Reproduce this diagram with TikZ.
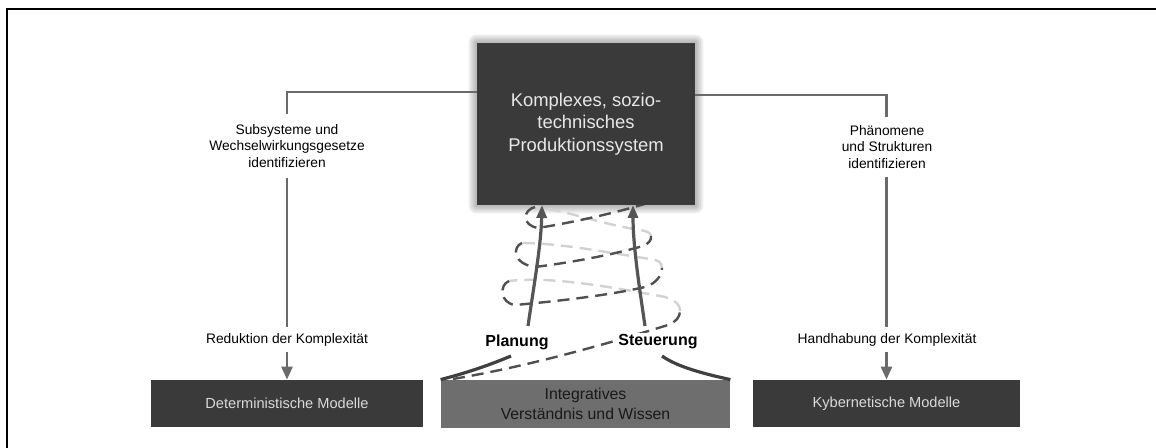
\documentclass[tikz,border=0pt]{standalone}
\usepackage{fontspec}
\setmainfont{Liberation Sans}
\usetikzlibrary{arrows.meta,calc,backgrounds}
\definecolor{boxdark}{HTML}{3A3A3A}
\definecolor{boxmid}{HTML}{6E6E6E}
\definecolor{conngray}{HTML}{6A6A6A}
\definecolor{arrowgray}{HTML}{555555}
\definecolor{curvegray}{HTML}{404040}
\definecolor{spiraldark}{HTML}{505050}
\definecolor{spirallight}{HTML}{D2D2D2}
\definecolor{lighttext}{HTML}{E8E8E8}
\definecolor{lighttexttwo}{HTML}{DADADA}
\begin{document}
\begin{tikzpicture}[x=0.5pt,y=-0.5pt,
  mainbox/.style={fill=boxdark,text=lighttext,minimum width=109pt,minimum height=81pt,inner sep=0pt,align=center,font=\fontsize{9.2}{11.3}\selectfont},
  darkbox/.style={fill=boxdark,text=lighttexttwo,inner sep=0pt,font=\fontsize{7.3}{9}\selectfont},
  midbox/.style={fill=boxmid,text=black!90,inner sep=0pt,align=center,font=\fontsize{7.9}{10}\selectfont},
  lbl/.style={fill=white,inner sep=0pt,align=center,font=\fontsize{6.9}{8.25}\selectfont},
  kwlbl/.style={fill=white,inner sep=1pt,font=\bfseries\fontsize{8}{9}\selectfont},
  conn/.style={draw=conngray,line width=1.3pt},
  ctip/.style={-{Triangle[length=6.5pt,width=5.5pt]}},
  flow/.style={draw=arrowgray,line width=1.6pt,-{Triangle[length=6.5pt,width=5pt]}},
  basecurve/.style={draw=curvegray,line width=1.6pt},
  spfront/.style={draw=spiraldark,line width=1.2pt,dash pattern=on 6pt off 3.5pt},
  spback/.style={draw=spirallight,line width=1.2pt,dash pattern=on 6pt off 3.5pt},
]
\useasboundingbox (0,0) rectangle (1156,448);
% frame
\draw[black,line width=1pt] (7,448) -- (7,9) -- (1156,9);

% main box
\node[mainbox] (main) at (586,124) {Komplexes, sozio-\\technisches\\Produktionssystem};

\begin{scope}[on background layer]
  \fill[white] (0,0) rectangle (1156,448);
  \foreach \d in {1,...,4}{
    \fill[black,opacity=0.07,rounded corners=\d pt] ($(main.south west)+(-2*\d,2*\d)$) rectangle ($(main.north east)+(2*\d,-2*\d)$);
  }
  % spiral: back parts
  \draw[spback] (680,311) .. controls (680,303) and (672,298) .. (660,296) .. controls (610,287) and (550,276) .. (509,281);
  \draw[spback] (662,268) .. controls (662,262) and (658,260) .. (650,259) .. controls (610,253) and (560,243) .. (522,243);
  \draw[spback] (651,236) .. controls (650,232) and (646,231) .. (640,230) .. controls (600,224) and (565,210) .. (535,207);
  % spiral: front parts
  \draw[spfront] (453,379) .. controls (530,366) and (610,343) .. (668,325) .. controls (676,322) and (680,317) .. (680,311);
  \draw[spfront] (509,281) .. controls (499,285) and (500,303) .. (515,305) .. controls (560,301) and (610,295) .. (645,287) .. controls (655,284) and (662,276) .. (662,268);
  \draw[spfront] (522,243) .. controls (512,247) and (513,264) .. (535,267) .. controls (575,262) and (615,254) .. (643,246) .. controls (648,244) and (652,240) .. (651,236);
  \draw[spfront] (535,207) .. controls (523,210) and (521,225) .. (538,228) .. controls (575,222) and (615,213) .. (648,203);
\end{scope}

% bottom boxes
\node[darkbox,minimum width=136pt,minimum height=23.5pt] (det) at (287,403.5) {Deterministische Modelle};
\node[midbox,minimum width=144.5pt,minimum height=24pt] (integ) at (585.5,404) {Integratives\\Verständnis und Wissen};
\node[darkbox,minimum width=133.5pt,minimum height=23.5pt] (kyb) at (886.5,403.5) {Kybernetische Modelle};

% side connectors
\coordinate (lc) at (287,92);
\coordinate (rc) at (886.5,95);
\draw[conn,ctip] (main.west |- lc) -- (lc) -- (det.north);
\draw[conn,ctip] (main.east |- rc) -- (rc) -- (kyb.north);

% connector labels
\node[lbl,minimum height=32pt] (subs) at (287,146) {Subsysteme und\\Wechselwirkungsgesetze\\identifizieren};
\node[lbl,minimum height=12.5pt] (red) at (287,339.5) {Reduktion der Komplexität};
\node[lbl,minimum height=30pt] (phen) at (887,147) {Phänomene\\und Strukturen\\identifizieren};
\node[lbl,minimum height=12.5pt] (hand) at (887,339.5) {Handhabung der Komplexität};

% Planung / Steuerung
\node[kwlbl] (plan) at (517,342) {Planung};
\node[kwlbl] (steu) at (658,342) {Steuerung};
\coordinate (pb) at (528,326);
\coordinate (pt) at (542,205);
\coordinate (sb) at (645,326);
\coordinate (st) at (633,205);
\draw[flow] (pb) .. controls (534,285) and (541,245) .. (pt);
\draw[flow] (sb) .. controls (639,285) and (633,245) .. (st);

% base curves
\coordinate (lcu) at (511,356);
\coordinate (rcu) at (662,356);
\draw[basecurve] (integ.north west) .. controls (470,372) and (492,364) .. (lcu);
\draw[basecurve] (rcu) .. controls (676,366) and (700,373) .. (integ.north east);
\end{tikzpicture}
\end{document}
